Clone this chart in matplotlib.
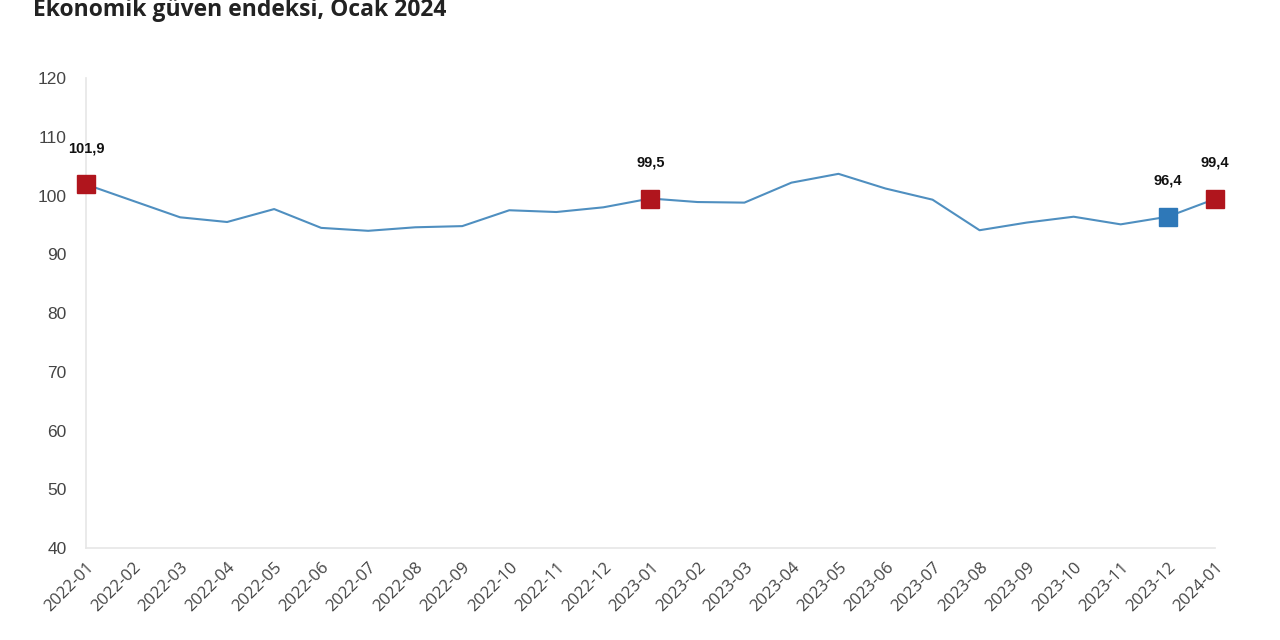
import numpy as np
import matplotlib.pyplot as plt

# aylar ve ekonomik güven endeksi değerleri
months = ['2022-01', '2022-02', '2022-03', '2022-04', '2022-05', '2022-06',
          '2022-07', '2022-08', '2022-09', '2022-10', '2022-11', '2022-12',
          '2023-01', '2023-02', '2023-03', '2023-04', '2023-05', '2023-06',
          '2023-07', '2023-08', '2023-09', '2023-10', '2023-11', '2023-12',
          '2024-01']
values = [101.9, 99.1, 96.3, 95.5, 97.7, 94.5, 94.0, 94.6, 94.8, 97.5, 97.2, 98.0,
          99.5, 98.9, 98.8, 102.2, 103.7, 101.2, 99.3, 94.1, 95.4, 96.4, 95.1, 96.4,
          99.4]

# vurgulanan noktalar
red_idx = [0, 12, 24]
blue_idx = [23]
labels = {0: '101,9', 12: '99,5', 23: '96,4', 24: '99,4'}

x = np.arange(len(months))

fig = plt.figure(figsize=(12.8, 6.4), dpi=100)
ax = fig.add_axes([0.0672, 0.1437, 0.8818, 0.7343])

ax.plot(x, values, color='#4f8fc0', linewidth=1.5, zorder=2)
ax.plot(x[red_idx], [values[i] for i in red_idx], 's', color='#b0151d',
        markersize=13, zorder=3, clip_on=False)
ax.plot(x[blue_idx], [values[i] for i in blue_idx], 's', color='#2e78b8',
        markersize=13, zorder=3, clip_on=False)

for i, txt in labels.items():
    ax.annotate(txt, (x[i], values[i]), xytext=(0, 26), textcoords='offset points',
                ha='center', va='center', fontsize=10.5, fontweight='bold',
                family='Liberation Sans', color='#111111', zorder=4)

ax.set_xlim(0, 24)
ax.set_ylim(40, 120)
ax.set_yticks(np.arange(40, 121, 10))
ax.set_xticks(x)
ax.set_xticklabels(months, rotation=45, ha='right', rotation_mode='anchor',
                   fontsize=12, family='Open Sans', color='#444444')
for lbl in ax.get_yticklabels():
    lbl.set_fontsize(12.5)
    lbl.set_family('Liberation Sans')
    lbl.set_color('#444444')

ax.tick_params(axis='both', length=0)
ax.tick_params(axis='y', pad=14)
ax.tick_params(axis='x', pad=8)

for side in ['top', 'right']:
    ax.spines[side].set_visible(False)
for side in ['left', 'bottom']:
    ax.spines[side].set_color('#e6e6e6')
    ax.spines[side].set_linewidth(1.2)

fig.text(0.026, 0.975, 'Ekonomik güven endeksi, Ocak 2024', fontsize=16.5,
         fontweight='bold', family='Open Sans', color='#222222', va='baseline')

plt.savefig('out.png', dpi=100)
